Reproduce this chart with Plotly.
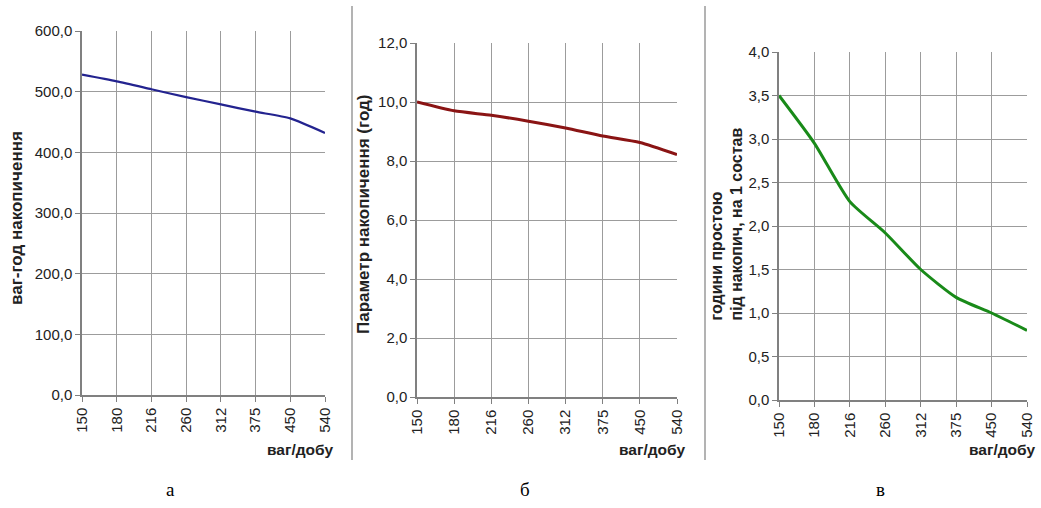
import plotly.graph_objects as go

categories = ["150", "180", "216", "260", "312", "375", "450", "540"]
vals_a = [528, 517, 504, 491, 479, 467, 456, 432]
vals_b = [10.0, 9.7, 9.55, 9.35, 9.12, 8.85, 8.63, 8.22]
vals_c = [3.5, 2.95, 2.28, 1.92, 1.5, 1.18, 1.0, 0.8]

W, H = 1041, 508

def px_x(a, b):
    return [a / W, b / W]

def px_y(top, bottom):
    return [1 - bottom / H, 1 - top / H]

panels = [
    dict(vals=vals_a, color="#23238f", width=2.2, x=(82, 325), y=(31, 395), rng=[0, 600], dtick=100),
    dict(vals=vals_b, color="#8a1414", width=3, x=(417, 677), y=(43, 397), rng=[0, 12], dtick=2),
    dict(vals=vals_c, color="#198a19", width=3, x=(779, 1027), y=(52, 400), rng=[0, 4], dtick=0.5),
]

fig = go.Figure()
xs = list(range(len(categories)))
tickfont = dict(family="Liberation Sans, Arial", size=15, color="#222222")

for i, p in enumerate(panels):
    n = "" if i == 0 else str(i + 1)
    fig.add_trace(go.Scatter(
        x=xs, y=p["vals"], mode="lines",
        line=dict(color=p["color"], width=p["width"], shape="spline", smoothing=0.6),
        xaxis="x" + n, yaxis="y" + n, showlegend=False, hoverinfo="skip"))
    common = dict(showgrid=True, gridcolor="#9c9c9c", gridwidth=1,
                  showline=True, linecolor="#808080", linewidth=1.5,
                  ticks="outside", ticklen=5, tickcolor="#808080",
                  tickfont=tickfont, zeroline=False, fixedrange=True, automargin=False)
    fig.layout["xaxis" + n] = dict(
        domain=px_x(*p["x"]), anchor="y" + n, range=[0, 7],
        tickmode="array", tickvals=xs, ticktext=categories, tickangle=-90,
        mirror=False, **common)
    fig.layout["yaxis" + n] = dict(
        domain=px_y(*p["y"]), anchor="x" + n, range=p["rng"],
        dtick=p["dtick"], tickformat=".1f", **common)
    # x-axis title
    fig.add_annotation(text="<b>ваг/добу</b>", xref="paper", yref="paper",
                       x=(p["x"][1] + 10) / W, y=1 - 449 / H, xanchor="right", yanchor="middle",
                       showarrow=False, font=dict(family="Liberation Sans, Arial", size=15.5, color="#222222"))

# y-axis titles
ytitle_font = dict(family="Liberation Sans, Arial", size=17, color="#222222")
fig.add_annotation(text="<b>ваг-год накопичення</b>", xref="paper", yref="paper",
                   x=16 / W, y=1 - 218 / H, textangle=-90, showarrow=False,
                   xanchor="center", yanchor="middle", font=ytitle_font)
fig.add_annotation(text="<b>Параметр накопичення (год)</b>", xref="paper", yref="paper",
                   x=364 / W, y=1 - 214 / H, textangle=-90, showarrow=False,
                   xanchor="center", yanchor="middle", font=ytitle_font)
fig.add_annotation(text="<b>години простою<br>під накопич, на 1 состав</b>", xref="paper", yref="paper",
                   x=726 / W, y=1 - 323 / H, textangle=-90, showarrow=False, align="left",
                   xanchor="center", yanchor="bottom",
                   font=dict(family="Liberation Sans, Arial", size=16, color="#222222"))

# panel letters
for letter, xc in [("а", 170), ("б", 525), ("в", 880)]:
    fig.add_annotation(text=letter, xref="paper", yref="paper", x=xc / W, y=1 - 489 / H,
                       showarrow=False, xanchor="center", yanchor="middle",
                       font=dict(family="Liberation Serif, Times New Roman", size=19, color="#000000"))

# separators
for xs_ in (352, 705):
    fig.add_shape(type="line", xref="paper", yref="paper",
                  x0=xs_ / W, x1=xs_ / W, y0=1 - 460 / H, y1=1 - 6 / H,
                  line=dict(color="#9a9a9a", width=1.5))

fig.update_layout(width=W, height=H, autosize=False,
                  margin=dict(l=0, r=0, t=0, b=0, autoexpand=False),
                  paper_bgcolor="white", plot_bgcolor="white",
                  separators=", ")

fig.write_html("out.html")
